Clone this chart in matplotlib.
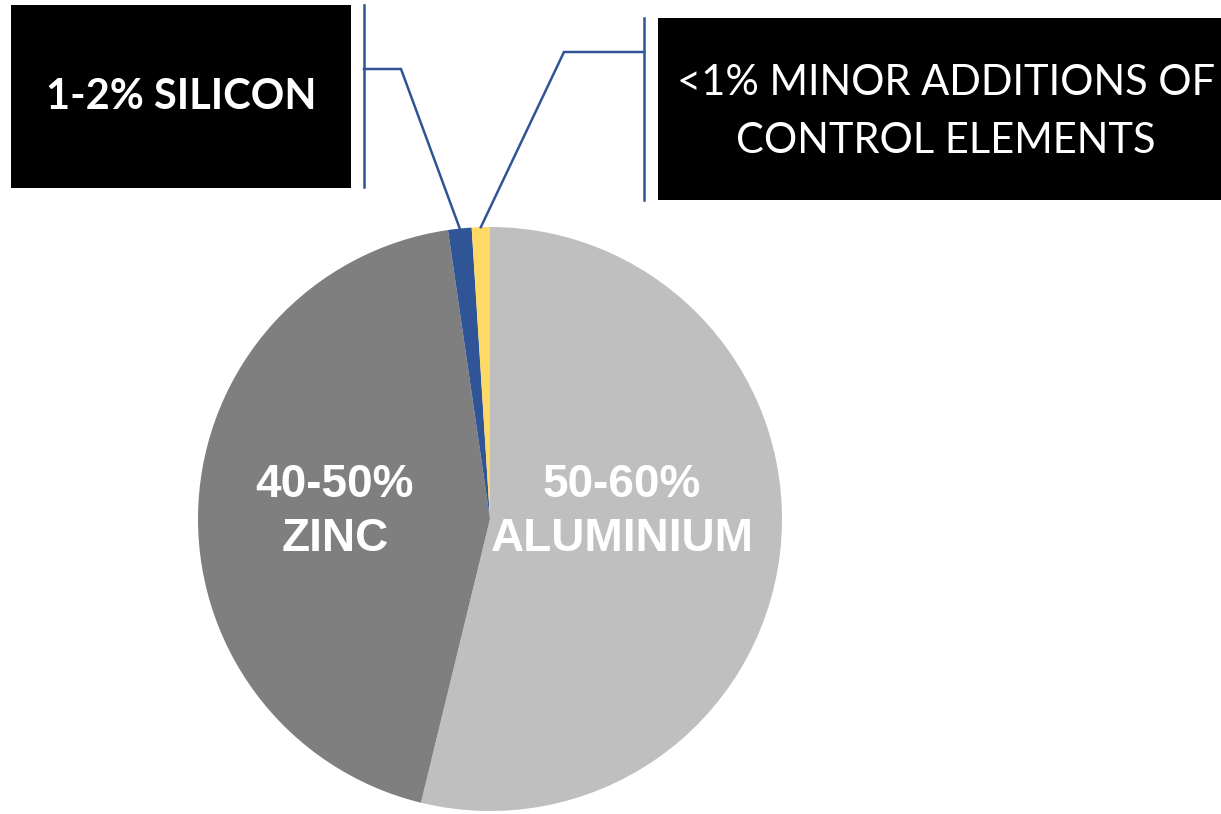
import matplotlib
matplotlib.use("Agg")
import matplotlib.pyplot as plt
from matplotlib.patches import Rectangle
import numpy as np

# Composition of the alloy coating (percent)
components = ["Aluminium", "Zinc", "Silicon", "Control elements"]
shares = [53.8, 43.9, 1.3, 1.0]
slice_labels = ["50-60%\nALUMINIUM", "40-50%\nZINC", "", ""]
colors = ["#BFBFBF", "#7F7F7F", "#2F5597", "#FFD966"]

silicon_label = "1-2% SILICON"
minor_label = "<1% MINOR ADDITIONS OF\nCONTROL ELEMENTS"

W, H = 1221, 814
fig = plt.figure(figsize=(W / 100, H / 100), dpi=100)
ax = fig.add_axes([0, 0, 1, 1])


def py(y):
    # pixel rows counted from the top
    return H - y


cx, cy, r = 490, py(519), 292
wedges, _ = ax.pie(shares, colors=colors, startangle=90, counterclock=False,
                   center=(cx, cy), radius=r, frame=True,
                   wedgeprops=dict(linewidth=0))
ax.set_xlim(0, W)
ax.set_ylim(0, H)
ax.set_aspect("equal")
ax.axis("off")

# labels inside the two big slices
label_pos = [(622, 512), (335, 512)]
for lab, (x, y) in zip(slice_labels[:2], label_pos):
    ax.text(x, py(y), lab, ha="center", va="center", color="white",
            fontsize=33, fontweight="bold", family="Liberation Sans",
            linespacing=1.32)

# callout boxes
ax.add_patch(Rectangle((11, py(188)), 340, 183, facecolor="black", edgecolor="none"))
ax.add_patch(Rectangle((658, py(200)), 563, 182, facecolor="black", edgecolor="none"))
ax.text(181, py(97), silicon_label, ha="center", va="center", color="white",
        fontsize=30, fontweight="bold", family="Lato")
ax.text(946, py(112), minor_label, ha="center", va="center", color="white",
        fontsize=30, family="Lato", linespacing=1.65)

# leader lines from the thin slices to the boxes
line_color = "#2F5597"


def slice_tip(w):
    a = np.deg2rad((w.theta1 + w.theta2) / 2)
    return cx + r * np.cos(a), cy + r * np.sin(a)


x0, y0 = slice_tip(wedges[2])
ax.plot([x0, 401, 364], [y0, py(69), py(69)], color=line_color, lw=1.8,
        solid_joinstyle="miter")
ax.plot([364, 364], [py(5), py(187)], color=line_color, lw=1.8)

x0, y0 = slice_tip(wedges[3])
ax.plot([x0, 564, 644], [y0, py(52), py(52)], color=line_color, lw=1.8,
        solid_joinstyle="miter")
ax.plot([644, 644], [py(18), py(200)], color=line_color, lw=1.8)

fig.savefig("out.png", dpi=100, facecolor="white")
